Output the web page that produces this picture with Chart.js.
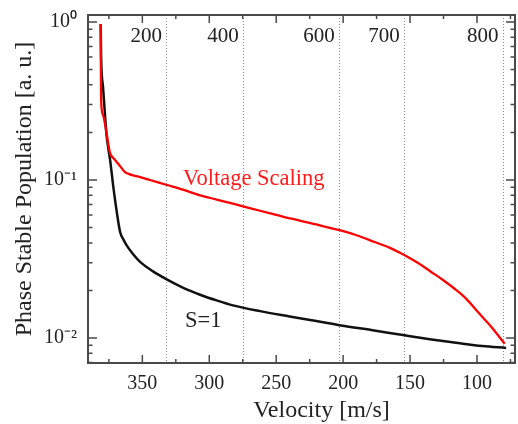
<!DOCTYPE html>
<html>
<head>
<meta charset="utf-8">
<script src="https://cdn.jsdelivr.net/npm/chart.js@4.4.1/dist/chart.umd.min.js"></script>
<style>
  html, body { margin: 0; padding: 0; background: #fff; }
  #caja { width: 518px; height: 424px; }
</style>
</head>
<body>
<div id="caja"><canvas id="grafico"></canvas></div>
<script>
// velocidades [m/s] y poblacion para cada curva
const velVoltaje = [381.1, 381.0, 380.8, 379.5, 377.1, 375.5, 374.1, 372.2, 370.4, 366.5, 362.9, 359.8, 356.9, 351.0, 344.2, 331.5, 319.0, 306.9, 294.5, 282.3, 272.0, 262.1, 250.0, 238.7, 220.0, 202.6, 190.0, 176.4, 165.0, 154.0, 144.0, 134.2, 125.4, 116.7, 108.0, 99.3, 89.4, 79.3];
const popVoltaje = [0.97, 0.60, 0.32, 0.26, 0.207, 0.17, 0.148, 0.139, 0.134, 0.122, 0.112, 0.109, 0.107, 0.104, 0.100, 0.093, 0.0865, 0.080, 0.0752, 0.0708, 0.0672, 0.0639, 0.0602, 0.0569, 0.0523, 0.0481, 0.0447, 0.0405, 0.0372, 0.0334, 0.0298, 0.0262, 0.0233, 0.0205, 0.0177, 0.0146, 0.0118, 0.0092];

const velS1 = [381.1, 380.8, 379.4, 378.2, 376.9, 375.5, 374.1, 371.7, 369.1, 366.6, 364.0, 361.7, 357.0, 351.7, 342.0, 331.8, 319.0, 306.9, 294.5, 282.3, 262.1, 240.0, 220.0, 201.6, 178.0, 154.0, 134.0, 114.2, 96.0, 78.2];
const popS1 = [0.97, 0.60, 0.39, 0.28, 0.198, 0.16, 0.134, 0.0908, 0.0627, 0.0469, 0.0418, 0.0386, 0.0340, 0.0303, 0.0264, 0.0235, 0.0207, 0.0188, 0.0173, 0.0161, 0.0148, 0.0137, 0.0128, 0.0120, 0.0112, 0.0104, 0.0098, 0.0093, 0.0089, 0.00865];

const ticksX = [350, 300, 250, 200, 150, 100];
const ticksXMenor = [375, 325, 275, 225, 175, 125, 75];
const ticksY = [1, 0.1, 0.01];
const etiquetasY = ["10⁰", "10⁻¹", "10⁻²"];

// lineas punteadas (eje superior) y sus etiquetas
const marcasVel = [331.6, 274.3, 202.6, 154.0, 80.2];
const marcasEtiqueta = ["200", "400", "600", "700", "800"];

const notas = [
  { texto: "Voltage Scaling", v: 319.6, p: 0.093, color: "#ff1a1a" },
  { texto: "S=1", v: 318.1, p: 0.01174, color: "#222222" }
];

const tituloX = "Velocity [m/s]";
const colorTexto = "#222222";
const fuente = "'Liberation Serif', 'Times New Roman', serif";

const marco = {
  id: "marco",
  afterDraw(chart) {
    const ctx = chart.ctx;
    const a = chart.chartArea;
    const x = chart.scales.x;
    const y = chart.scales.y;
    ctx.save();
    ctx.strokeStyle = "#4a4a4a";
    ctx.lineWidth = 2;
    ctx.strokeRect(a.left, a.top, a.right - a.left, a.bottom - a.top);

    ctx.lineWidth = 1.5;
    ctx.beginPath();
    const marcaX = (v, largo) => {
      const px = x.getPixelForValue(v);
      if (px < a.left || px > a.right) return;
      ctx.moveTo(px, a.bottom); ctx.lineTo(px, a.bottom - largo);
      ctx.moveTo(px, a.top); ctx.lineTo(px, a.top + largo);
    };
    ticksX.forEach(v => marcaX(v, 8));
    ticksXMenor.forEach(v => marcaX(v, 4));

    const marcaY = (v, largo) => {
      const py = y.getPixelForValue(v);
      if (py < a.top - 0.5 || py > a.bottom + 0.5) return;
      ctx.moveTo(a.left, py); ctx.lineTo(a.left + largo, py);
      ctx.moveTo(a.right, py); ctx.lineTo(a.right - largo, py);
    };
    [0.001, 0.01, 0.1, 1].forEach(dec => {
      marcaY(dec, 9);
      for (let k = 2; k <= 9; k++) marcaY(dec * k, 4.5);
    });
    ctx.stroke();

    ctx.font = "21px " + fuente;
    ctx.fillStyle = colorTexto;
    ctx.textAlign = "right";
    ctx.textBaseline = "alphabetic";
    const yEtiq = y.getPixelForValue(0.75);
    marcasVel.forEach((v, i) => {
      ctx.fillText(marcasEtiqueta[i], x.getPixelForValue(v) - 5, yEtiq);
    });

    ctx.font = "22.5px " + fuente;
    ctx.textAlign = "left";
    notas.forEach(n => {
      ctx.fillStyle = n.color;
      ctx.fillText(n.texto, x.getPixelForValue(n.v), y.getPixelForValue(n.p));
    });

    // titulo del eje x, algo corrido a la derecha como en el original
    ctx.font = "24px " + fuente;
    ctx.fillStyle = colorTexto;
    ctx.textAlign = "center";
    ctx.fillText(tituloX, (a.left + a.right) / 2 + 20, a.bottom + 54);
    ctx.restore();
  }
};

new Chart(document.getElementById("grafico"), {
  type: "line",
  data: {
    datasets: [
      {
        label: "Voltage Scaling",
        data: velVoltaje.map((v, i) => ({ x: v, y: popVoltaje[i] })),
        borderColor: "#ff0000",
        borderWidth: 2.3,
        pointRadius: 0,
        cubicInterpolationMode: "monotone"
      },
      {
        label: "S=1",
        data: velS1.map((v, i) => ({ x: v, y: popS1[i] })),
        borderColor: "#111111",
        borderWidth: 2.5,
        pointRadius: 0,
        cubicInterpolationMode: "monotone"
      }
    ]
  },
  options: {
    responsive: true,
    maintainAspectRatio: false,
    animation: false,
    layout: { padding: { left: 0, right: 3, top: 15, bottom: 0 } },
    plugins: { legend: { display: false }, tooltip: { enabled: false } },
    scales: {
      x: {
        type: "linear",
        position: "bottom",
        reverse: true,
        min: 71.6,
        max: 390.6,
        afterBuildTicks: s => { s.ticks = ticksX.map(v => ({ value: v })); },
        afterFit: s => { s.height = 61; },
        grid: { display: false },
        border: { display: false },
        ticks: { color: colorTexto, font: { family: fuente, size: 20 }, padding: 1, maxRotation: 0 }
      },
      xArriba: {
        type: "linear",
        position: "top",
        reverse: true,
        min: 71.6,
        max: 390.6,
        afterBuildTicks: s => { s.ticks = marcasVel.map(v => ({ value: v })); },
        afterFit: s => { s.height = 0; },
        grid: { color: "#8a8a8a", lineWidth: 1, drawTicks: false },
        border: { display: false, dash: [1, 2] },
        ticks: { display: false }
      },
      y: {
        type: "logarithmic",
        min: 0.00695,
        max: 1.107,
        afterBuildTicks: s => { s.ticks = ticksY.map(v => ({ value: v })); },
        afterFit: s => { s.width = 88; },
        grid: { display: false },
        border: { display: false },
        ticks: {
          color: colorTexto,
          font: { family: fuente, size: 20 },
          padding: 3,
          callback: (v) => etiquetasY[ticksY.indexOf(v)]
        },
        title: {
          display: true,
          text: "Phase Stable Population [a. u.]",
          color: colorTexto,
          font: { family: fuente, size: 24 },
          padding: { top: 10, bottom: 0 }
        }
      }
    }
  },
  plugins: [marco]
});
</script>
</body>
</html>
